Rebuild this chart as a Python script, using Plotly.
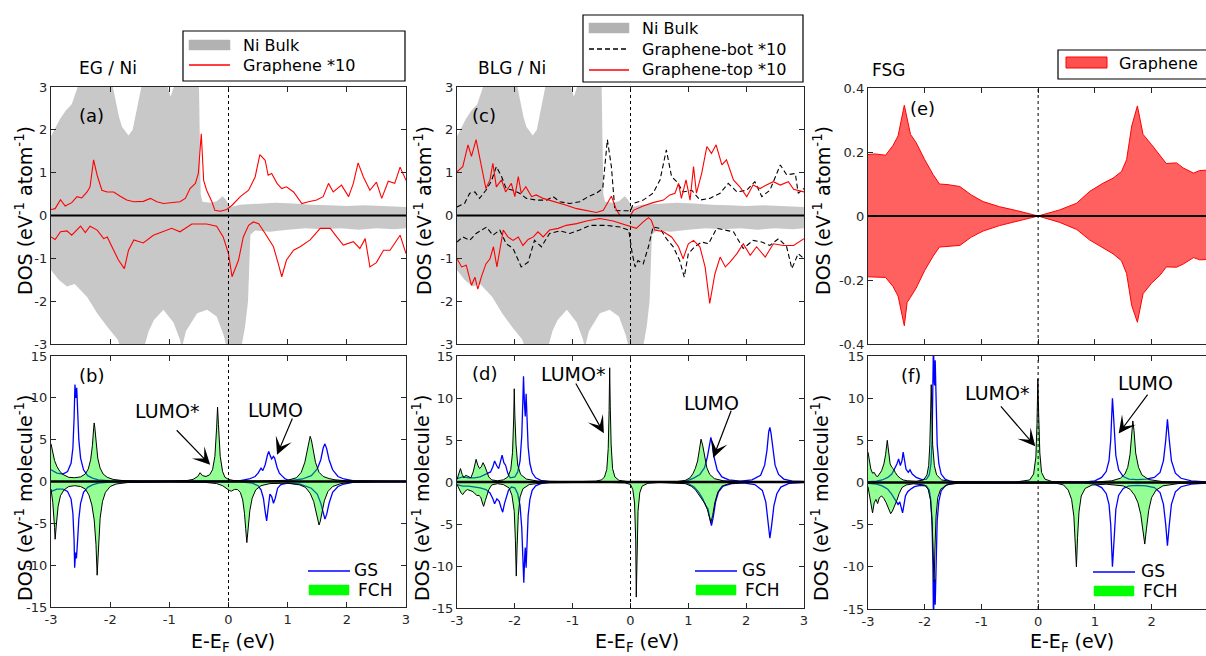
import plotly.graph_objects as go

W, H = 1206, 656

# ----------------------------------------------------------------- DATA
# (energy eV, DOS) pairs
NI_UP = [(-3.00, 1.85), (-2.93, 2.05), (-2.85, 2.25), (-2.75, 2.45), (-2.65, 2.6), (-2.55, 3.0), (-2.50, 3.3),
         (-2.30, 3.5), (-2.10, 3.4), (-1.97, 3.1), (-1.91, 2.7), (-1.85, 2.3), (-1.80, 2.07), (-1.69, 1.87),
         (-1.62, 2.0), (-1.55, 2.5), (-1.49, 3.0), (-1.40, 3.5), (-1.20, 3.4), (-1.05, 3.1), (-0.98, 2.77),
         (-0.90, 3.1), (-0.80, 3.4), (-0.60, 3.3), (-0.50, 3.1), (-0.47, 0.5), (-0.44, 0.32), (-0.30, 0.3),
         (-0.20, 0.33), (-0.10, 0.45), (-0.05, 0.38), (0.03, 0.2), (0.20, 0.25), (0.50, 0.28), (0.80, 0.3),
         (1.10, 0.28), (1.40, 0.25), (1.70, 0.24), (2.00, 0.22), (2.30, 0.24), (2.60, 0.23), (2.80, 0.22),
         (3.00, 0.2)]
NI_DN = [(-3.00, -1.27), (-2.87, -1.5), (-2.73, -1.66), (-2.60, -1.6), (-2.39, -1.9), (-2.22, -2.28),
         (-2.05, -2.6), (-1.87, -2.9), (-1.80, -3.2), (-1.60, -3.4), (-1.43, -3.1), (-1.35, -2.7),
         (-1.26, -2.44), (-1.10, -2.2), (-0.93, -2.5), (-0.82, -2.9), (-0.79, -3.1), (-0.72, -2.7),
         (-0.53, -2.28), (-0.36, -2.2), (-0.20, -2.36), (-0.08, -2.8), (-0.03, -3.1), (0.10, -3.4),
         (0.20, -3.2), (0.28, -2.6), (0.33, -2.0), (0.37, -0.45), (0.45, -0.35), (0.70, -0.38), (1.00, -0.33),
         (1.30, -0.3), (1.60, -0.32), (1.90, -0.3), (2.20, -0.33), (2.50, -0.3), (2.80, -0.32), (3.00, -0.3)]

EG_UP = [(-3.00, 0.14), (-2.93, 0.16), (-2.84, 0.37), (-2.76, 0.22), (-2.65, 0.3), (-2.56, 0.44),
         (-2.48, 0.41), (-2.39, 0.55), (-2.34, 0.67), (-2.28, 1.3), (-2.22, 0.94), (-2.14, 0.59),
         (-2.05, 0.55), (-1.94, 0.55), (-1.83, 0.45), (-1.72, 0.36), (-1.60, 0.32), (-1.44, 0.33),
         (-1.32, 0.4), (-1.21, 0.32), (-1.10, 0.28), (-0.93, 0.3), (-0.82, 0.32), (-0.73, 0.4),
         (-0.65, 0.63), (-0.56, 0.75), (-0.51, 0.98), (-0.46, 1.91), (-0.42, 0.82), (-0.37, 0.59),
         (-0.28, 0.32), (-0.23, 0.12), (-0.14, 0.1), (-0.03, 0.14), (0.06, 0.24), (0.20, 0.44),
         (0.34, 0.59), (0.45, 0.9), (0.53, 1.42), (0.62, 1.29), (0.67, 0.94), (0.73, 0.98), (0.82, 0.75),
         (0.90, 0.63), (0.98, 0.67), (1.10, 0.55), (1.24, 0.28), (1.35, 0.32), (1.49, 0.36), (1.60, 0.44),
         (1.69, 0.75), (1.77, 0.55), (1.91, 0.71), (2.03, 0.44), (2.11, 0.75), (2.19, 1.23), (2.28, 0.9),
         (2.39, 0.59), (2.50, 0.78), (2.59, 0.4), (2.70, 0.8), (2.81, 0.75), (2.90, 1.13), (3.00, 0.82)]
EG_DN = [(-3.00, -0.5), (-2.93, -0.56), (-2.84, -0.38), (-2.73, -0.36), (-2.65, -0.46), (-2.50, -0.25),
         (-2.42, -0.4), (-2.34, -0.25), (-2.22, -0.34), (-2.11, -0.54), (-2.05, -0.5), (-1.97, -0.73),
         (-1.86, -1.04), (-1.76, -1.24), (-1.69, -0.81), (-1.60, -0.57), (-1.44, -0.64), (-1.27, -0.46),
         (-1.10, -0.38), (-0.96, -0.3), (-0.82, -0.38), (-0.70, -0.26), (-0.62, -0.2), (-0.37, -0.2),
         (-0.20, -0.25), (-0.09, -0.5), (0.00, -0.89), (0.06, -1.43), (0.11, -1.24), (0.17, -1.04),
         (0.25, -0.5), (0.34, -0.23), (0.42, -0.15), (0.51, -0.19), (0.62, -0.42), (0.76, -0.73),
         (0.84, -1.12), (0.90, -1.43), (0.98, -1.04), (1.10, -0.81), (1.21, -0.73), (1.38, -0.57),
         (1.55, -0.3), (1.72, -0.3), (1.83, -0.5), (1.94, -0.69), (2.11, -0.61), (2.22, -0.77),
         (2.31, -0.54), (2.39, -1.2), (2.50, -1.1), (2.62, -0.81), (2.73, -0.81), (2.84, -0.57),
         (2.90, -0.46), (3.00, -0.89)]

BLG_TOP_UP = [(-3.00, 1.02), (-2.90, 1.14), (-2.81, 1.65), (-2.75, 1.38), (-2.67, 1.77), (-2.58, 1.14),
              (-2.50, 0.63), (-2.43, 0.83), (-2.38, 1.22), (-2.32, 0.67), (-2.23, 0.83), (-2.16, 0.55),
              (-2.06, 0.75), (-2.00, 0.44), (-1.94, 0.91), (-1.89, 0.52), (-1.81, 0.67), (-1.71, 0.44),
              (-1.63, 0.48), (-1.51, 0.4), (-1.40, 0.36), (-1.28, 0.3), (-1.11, 0.24), (-0.93, 0.16),
              (-0.76, 0.11), (-0.59, 0.07), (-0.47, 0.12), (-0.33, 0.45), (-0.24, 0.12), (-0.18, 0.0),
              (0.00, 0.0), (0.05, 0.12), (0.22, 0.22), (0.39, 0.3), (0.57, 0.36), (0.68, 0.48), (0.77, 0.52),
              (0.83, 0.75), (0.88, 0.4), (0.96, 0.83), (1.03, 0.36), (1.09, 1.14), (1.14, 0.52), (1.23, 0.98),
              (1.32, 1.61), (1.40, 1.45), (1.48, 1.65), (1.58, 1.18), (1.66, 1.3), (1.78, 0.83), (1.89, 0.67),
              (2.01, 0.44), (2.12, 0.71), (2.24, 0.63), (2.35, 0.71), (2.47, 0.79), (2.59, 0.71), (2.73, 0.79),
              (2.82, 0.61), (3.00, 0.55)]
BLG_TOP_DN = [(-3.00, -1.01), (-2.92, -1.2), (-2.84, -1.16), (-2.75, -1.63), (-2.69, -1.44), (-2.64, -1.72),
              (-2.58, -1.44), (-2.50, -1.13), (-2.43, -1.01), (-2.37, -0.73), (-2.31, -1.2), (-2.20, -0.34),
              (-2.12, -0.5), (-2.03, -0.58), (-1.94, -0.5), (-1.86, -0.7), (-1.77, -0.56), (-1.68, -0.5),
              (-1.60, -0.38), (-1.51, -0.5), (-1.40, -0.34), (-1.25, -0.3), (-1.11, -0.23), (-0.93, -0.19),
              (-0.76, -0.13), (-0.53, -0.07), (-0.30, -0.13), (-0.13, -0.2), (0.00, -0.25), (0.10, -0.3),
              (0.22, -0.15), (0.31, -0.05), (0.36, -0.11), (0.42, -0.34), (0.57, -0.38), (0.71, -0.5),
              (0.83, -0.73), (0.91, -1.01), (1.00, -0.66), (1.09, -0.58), (1.20, -0.73), (1.29, -1.2),
              (1.37, -2.05), (1.46, -1.36), (1.55, -0.97), (1.64, -1.2), (1.72, -1.09), (1.84, -0.89),
              (1.95, -0.66), (2.07, -0.93), (2.18, -0.73), (2.33, -0.97), (2.47, -0.66), (2.64, -0.7),
              (2.82, -0.7), (3.00, -0.54)]
BLG_BOT_UP = [(-3.00, 0.2), (-2.87, 0.28), (-2.78, 0.52), (-2.69, 0.55), (-2.61, 0.4), (-2.50, 0.59),
              (-2.41, 0.79), (-2.32, 1.14), (-2.23, 0.91), (-2.15, 0.63), (-2.03, 0.59), (-1.92, 0.52),
              (-1.80, 0.4), (-1.63, 0.36), (-1.45, 0.36), (-1.34, 0.44), (-1.22, 0.32), (-1.05, 0.28),
              (-0.88, 0.32), (-0.73, 0.44), (-0.59, 0.52), (-0.48, 0.63), (-0.40, 1.77), (-0.33, 1.14),
              (-0.27, 0.12), (-0.18, 0.11), (0.00, 0.11), (0.05, 0.28), (0.22, 0.36), (0.39, 0.52),
              (0.51, 0.83), (0.60, 1.45), (0.62, 1.53), (0.71, 0.91), (0.80, 0.79), (0.91, 0.55), (1.06, 0.59),
              (1.20, 0.36), (1.37, 0.4), (1.55, 0.52), (1.69, 0.75), (1.84, 0.55), (2.01, 0.59), (2.15, 0.79),
              (2.27, 0.44), (2.41, 0.59), (2.59, 1.18), (2.70, 0.95), (2.85, 0.98), (2.90, 0.52), (3.00, 0.63)]
BLG_BOT_DN = [(-3.00, -0.62), (-2.90, -0.5), (-2.78, -0.58), (-2.67, -0.42), (-2.49, -0.27), (-2.38, -0.46),
              (-2.26, -0.34), (-2.15, -0.66), (-2.03, -0.77), (-1.89, -1.2), (-1.77, -1.09), (-1.66, -0.58),
              (-1.54, -0.73), (-1.40, -0.42), (-1.22, -0.36), (-1.05, -0.42), (-0.88, -0.34), (-0.70, -0.23),
              (-0.41, -0.23), (-0.18, -0.27), (-0.03, -0.34), (0.03, -0.89), (0.08, -1.2), (0.13, -1.05),
              (0.22, -1.13), (0.31, -0.73), (0.39, -0.27), (0.51, -0.3), (0.62, -0.54), (0.74, -0.73),
              (0.85, -1.05), (0.93, -1.44), (1.00, -0.89), (1.11, -0.73), (1.23, -0.62), (1.35, -0.66),
              (1.49, -0.3), (1.64, -0.34), (1.78, -0.38), (1.95, -0.77), (2.12, -0.58), (2.27, -0.62),
              (2.41, -0.7), (2.56, -0.54), (2.70, -0.73), (2.79, -1.24), (2.90, -0.89), (3.00, -1.01)]

FSG_UP = [(-3.00, 0.192), (-2.88, 0.194), (-2.69, 0.19), (-2.56, 0.22), (-2.47, 0.25), (-2.36, 0.346),
          (-2.25, 0.255), (-2.15, 0.229), (-2.00, 0.176), (-1.85, 0.129), (-1.74, 0.1), (-1.59, 0.098),
          (-1.38, 0.092), (-1.18, 0.066), (-0.97, 0.045), (-0.68, 0.029), (-0.38, 0.017), (0.00, 0.0),
          (0.38, 0.019), (0.68, 0.04), (0.91, 0.077), (1.15, 0.103), (1.32, 0.118), (1.47, 0.139),
          (1.56, 0.176), (1.65, 0.281), (1.75, 0.344), (1.85, 0.255), (2.00, 0.223), (2.15, 0.187),
          (2.26, 0.164), (2.44, 0.166), (2.56, 0.15), (2.74, 0.134), (2.85, 0.142), (2.96, 0.143)]
FSG_DN = [(-3.00, -0.19), (-2.88, -0.19), (-2.69, -0.192), (-2.56, -0.22), (-2.47, -0.25), (-2.36, -0.343),
          (-2.31, -0.27), (-2.25, -0.254), (-2.15, -0.225), (-2.00, -0.17), (-1.85, -0.125), (-1.74, -0.097),
          (-1.59, -0.095), (-1.38, -0.092), (-1.18, -0.066), (-0.97, -0.047), (-0.68, -0.03), (-0.38, -0.017),
          (0.00, 0.0), (0.38, -0.02), (0.68, -0.042), (0.91, -0.075), (1.15, -0.1), (1.32, -0.118),
          (1.47, -0.14), (1.56, -0.18), (1.65, -0.28), (1.75, -0.332), (1.85, -0.243), (2.00, -0.21),
          (2.15, -0.185), (2.26, -0.159), (2.44, -0.16), (2.56, -0.15), (2.74, -0.13), (2.85, -0.137),
          (2.96, -0.136)]

# molecule DOS, panel (b)
B_GS_UP = [(-3.00, 1.4), (-2.90, 1.0), (-2.80, 0.9), (-2.72, 1.2), (-2.66, 2.2), (-2.63, 4.0), (-2.61, 7.5),
           (-2.595, 11.6), (-2.58, 10.0), (-2.565, 11.2), (-2.55, 8.5), (-2.53, 5.0), (-2.50, 2.8),
           (-2.45, 1.4), (-2.38, 0.7), (-2.30, 0.4), (-2.20, 0.2), (-2.00, 0.08), (-1.50, 0.03), (0.00, 0.02),
           (0.20, 0.1), (0.35, 0.3), (0.45, 0.6), (0.50, 1.0), (0.55, 1.6), (0.58, 1.3), (0.62, 2.0),
           (0.66, 3.2), (0.68, 3.6), (0.71, 3.0), (0.73, 2.7), (0.76, 3.0), (0.78, 2.8), (0.82, 1.7),
           (0.86, 1.0), (0.90, 0.7), (0.95, 0.35), (1.00, 0.2), (1.10, 0.15), (1.25, 0.3), (1.40, 0.7),
           (1.50, 1.5), (1.56, 2.6), (1.60, 4.0), (1.63, 4.5), (1.66, 3.9), (1.70, 2.6), (1.76, 1.4),
           (1.85, 0.6), (1.95, 0.3), (2.10, 0.1), (2.50, 0.03), (3.00, 0.0)]
B_GS_DN = [(-3.00, -1.2), (-2.90, -0.9), (-2.80, -0.9), (-2.72, -1.2), (-2.66, -2.1), (-2.63, -3.8),
           (-2.61, -7.0), (-2.60, -10.3), (-2.585, -8.5), (-2.57, -9.2), (-2.55, -7.0), (-2.53, -4.5),
           (-2.50, -2.6), (-2.45, -1.3), (-2.38, -0.7), (-2.30, -0.4), (-2.20, -0.2), (-2.00, -0.08),
           (-1.00, -0.02), (0.20, -0.05), (0.40, -0.2), (0.50, -0.5), (0.55, -1.0), (0.59, -2.0), (0.62, -3.6),
           (0.645, -4.7), (0.67, -3.2), (0.70, -1.5), (0.73, -1.8), (0.76, -2.6), (0.79, -2.0), (0.83, -0.8),
           (0.88, -0.4), (0.92, -0.3), (1.00, -0.2), (1.20, -0.3), (1.40, -0.8), (1.50, -1.5), (1.56, -2.6),
           (1.60, -3.9), (1.63, -4.5), (1.66, -3.9), (1.70, -2.6), (1.76, -1.3), (1.85, -0.6), (1.95, -0.3),
           (2.10, -0.1), (2.50, -0.03), (3.00, 0.0)]
B_FCH_UP = [(-3.00, 4.5), (-2.97, 3.4), (-2.94, 2.5), (-2.90, 1.8), (-2.85, 1.2), (-2.80, 0.85), (-2.70, 0.5),
            (-2.60, 0.45), (-2.50, 0.55), (-2.42, 0.9), (-2.37, 1.5), (-2.33, 2.6), (-2.30, 4.3),
            (-2.28, 6.3), (-2.27, 7.0), (-2.26, 6.5), (-2.24, 4.6), (-2.21, 2.8), (-2.17, 1.6), (-2.12, 0.9),
            (-2.05, 0.5), (-1.95, 0.25), (-1.80, 0.12), (-1.50, 0.05), (-1.00, 0.05), (-0.70, 0.12),
            (-0.60, 0.25), (-0.52, 0.6), (-0.48, 1.05), (-0.44, 0.7), (-0.38, 0.6), (-0.32, 0.8),
            (-0.27, 1.4), (-0.23, 3.0), (-0.20, 6.5), (-0.185, 8.9), (-0.17, 6.8), (-0.14, 3.0),
            (-0.10, 1.2), (-0.06, 0.5), (0.00, 0.25), (0.10, 0.1), (0.50, 0.05), (1.00, 0.15), (1.15, 0.45),
            (1.23, 1.1), (1.29, 2.3), (1.33, 3.8), (1.36, 5.0), (1.38, 5.4), (1.40, 5.0), (1.43, 3.8),
            (1.47, 2.3), (1.53, 1.1), (1.60, 0.6), (1.70, 0.35), (1.80, 0.2), (2.00, 0.08), (2.50, 0.02),
            (3.00, 0.0)]
B_FCH_DN = [(-3.00, -0.9), (-2.97, -2.5), (-2.94, -5.5), (-2.93, -6.9), (-2.91, -5.2), (-2.88, -3.0),
            (-2.84, -1.7), (-2.78, -1.0), (-2.70, -0.6), (-2.60, -0.5), (-2.50, -0.6), (-2.42, -0.9),
            (-2.36, -1.6), (-2.31, -2.8), (-2.27, -4.6), (-2.24, -7.5), (-2.22, -11.2), (-2.20, -7.8),
            (-2.17, -4.4), (-2.13, -2.4), (-2.08, -1.3), (-2.00, -0.6), (-1.90, -0.3), (-1.70, -0.12),
            (-1.00, -0.05), (-0.40, -0.1), (-0.20, -0.25), (-0.10, -0.5), (-0.03, -0.9), (0.02, -1.1),
            (0.05, -1.15), (0.10, -0.95), (0.15, -0.95), (0.20, -1.3), (0.24, -2.2), (0.27, -3.8),
            (0.29, -5.6), (0.31, -7.3), (0.33, -5.8), (0.36, -3.5), (0.40, -2.0), (0.46, -1.0), (0.55, -0.5),
            (0.70, -0.25), (1.00, -0.2), (1.20, -0.4), (1.30, -0.7), (1.38, -1.4), (1.44, -2.4), (1.49, -3.8),
            (1.52, -4.9), (1.53, -5.2), (1.55, -4.8), (1.58, -3.6), (1.62, -2.3), (1.68, -1.2), (1.76, -0.6),
            (1.90, -0.25), (2.10, -0.08), (2.50, -0.02), (3.00, 0.0)]

# panel (d)
D_GS_UP = [(-3.00, 0.4), (-2.90, 0.6), (-2.80, 0.5), (-2.70, 0.5), (-2.60, 0.6), (-2.50, 0.9), (-2.42, 1.2),
           (-2.38, 1.8), (-2.35, 2.5), (-2.31, 1.9), (-2.28, 1.6), (-2.25, 2.4), (-2.22, 3.2), (-2.19, 2.3),
           (-2.16, 2.0), (-2.12, 1.0), (-2.08, 0.5), (-2.00, 0.6), (-1.95, 1.2), (-1.91, 2.5), (-1.88, 5.5),
           (-1.86, 10.0), (-1.85, 12.6), (-1.835, 9.5), (-1.82, 7.8), (-1.805, 10.5), (-1.79, 7.5),
           (-1.77, 4.2), (-1.74, 2.2), (-1.70, 1.1), (-1.64, 0.5), (-1.55, 0.2), (-1.40, 0.05), (0.00, 0.0),
           (0.90, 0.05), (1.00, 0.2), (1.10, 0.5), (1.20, 0.9), (1.28, 1.7), (1.33, 3.0), (1.37, 4.8),
           (1.39, 5.3), (1.41, 4.6), (1.45, 2.8), (1.50, 1.4), (1.58, 0.6), (1.70, 0.25), (1.90, 0.1),
           (2.10, 0.25), (2.25, 0.8), (2.32, 2.0), (2.36, 3.8), (2.39, 6.0), (2.41, 6.5), (2.43, 5.8),
           (2.46, 3.8), (2.50, 2.0), (2.56, 0.9), (2.65, 0.35), (2.80, 0.1), (3.00, 0.03)]
D_GS_DN = [(-3.00, -0.3), (-2.90, -0.5), (-2.80, -0.5), (-2.70, -0.6), (-2.60, -0.7), (-2.50, -0.9),
           (-2.43, -1.3), (-2.38, -2.0), (-2.35, -2.6), (-2.31, -2.0), (-2.27, -2.3), (-2.24, -3.0),
           (-2.21, -3.6), (-2.18, -2.6), (-2.15, -2.0), (-2.11, -1.0), (-2.06, -0.6), (-2.00, -0.7),
           (-1.95, -1.4), (-1.91, -2.8), (-1.88, -5.5), (-1.86, -9.5), (-1.845, -12.0), (-1.83, -9.0),
           (-1.82, -7.8), (-1.805, -10.2), (-1.79, -7.2), (-1.77, -4.0), (-1.74, -2.1), (-1.70, -1.0),
           (-1.64, -0.45), (-1.55, -0.2), (-1.40, -0.05), (0.00, 0.0), (0.90, -0.05), (1.00, -0.2),
           (1.10, -0.6), (1.18, -1.2), (1.25, -2.0), (1.30, -2.8), (1.34, -3.2), (1.37, -4.3), (1.40, -5.2),
           (1.43, -4.2), (1.47, -2.4), (1.52, -1.2), (1.60, -0.5), (1.75, -0.2), (1.95, -0.1), (2.15, -0.3),
           (2.28, -1.0), (2.34, -2.4), (2.38, -4.8), (2.41, -6.7), (2.44, -5.2), (2.48, -2.8), (2.53, -1.4),
           (2.60, -0.6), (2.75, -0.15), (3.00, -0.03)]
D_FCH_UP = [(-3.00, 0.3), (-2.97, 1.0), (-2.94, 1.6), (-2.91, 0.9), (-2.88, 0.5), (-2.85, 0.8), (-2.80, 0.6),
            (-2.76, 0.5), (-2.72, 1.2), (-2.69, 2.0), (-2.67, 2.7), (-2.64, 2.0), (-2.61, 1.6), (-2.58, 1.8),
            (-2.55, 2.3), (-2.52, 1.9), (-2.49, 1.4), (-2.45, 0.6), (-2.40, 0.25), (-2.30, 0.15),
            (-2.20, 0.25), (-2.12, 0.6), (-2.07, 1.5), (-2.04, 3.5), (-2.02, 7.5), (-2.01, 11.1),
            (-2.00, 8.0), (-1.98, 4.5), (-1.95, 2.0), (-1.90, 0.9), (-1.80, 0.35), (-1.60, 0.1),
            (-1.00, 0.03), (-0.60, 0.1), (-0.50, 0.25), (-0.45, 0.6), (-0.41, 1.5), (-0.385, 4.0),
            (-0.37, 8.5), (-0.36, 13.6), (-0.35, 9.0), (-0.335, 4.5), (-0.31, 1.6), (-0.27, 0.6),
            (-0.20, 0.2), (-0.10, 0.08), (0.00, 0.0), (0.80, 0.05), (0.95, 0.2), (1.03, 0.5), (1.08, 1.0),
            (1.12, 1.6), (1.16, 2.5), (1.19, 3.8), (1.22, 5.1), (1.25, 4.3), (1.28, 3.0), (1.32, 1.7),
            (1.37, 0.9), (1.45, 0.4), (1.60, 0.15), (1.90, 0.05), (3.00, 0.0)]
D_FCH_DN = [(-3.00, -0.3), (-2.97, -0.8), (-2.93, -1.3), (-2.90, -1.5), (-2.86, -1.1), (-2.82, -0.9),
            (-2.78, -1.0), (-2.74, -1.1), (-2.70, -1.3), (-2.66, -1.6), (-2.62, -1.6), (-2.59, -1.8),
            (-2.56, -2.5), (-2.54, -2.9), (-2.51, -2.2), (-2.48, -1.6), (-2.45, -0.9), (-2.40, -0.35),
            (-2.30, -0.2), (-2.20, -0.3), (-2.10, -0.7), (-2.05, -1.6), (-2.01, -3.5), (-1.99, -7.0),
            (-1.975, -11.2), (-1.96, -7.5), (-1.94, -4.0), (-1.91, -1.8), (-1.86, -0.8), (-1.75, -0.3),
            (-1.50, -0.1), (-0.50, -0.03), (-0.10, -0.1), (0.00, -0.3), (0.04, -0.9), (0.07, -2.5),
            (0.09, -7.0), (0.10, -13.7), (0.11, -8.5), (0.13, -3.5), (0.16, -1.3), (0.20, -0.5),
            (0.30, -0.15), (0.50, -0.05), (0.95, -0.2), (1.05, -0.5), (1.12, -0.9), (1.18, -1.5),
            (1.24, -2.0), (1.29, -2.6), (1.33, -3.3), (1.37, -4.3), (1.39, -4.8), (1.42, -4.0), (1.46, -2.4),
            (1.51, -1.2), (1.58, -0.5), (1.70, -0.2), (2.00, -0.05), (3.00, 0.0)]

# panel (f)
F_GS_UP = [(-3.00, 0.1), (-2.85, 0.15), (-2.75, 0.3), (-2.65, 0.6), (-2.58, 1.0), (-2.53, 1.6), (-2.49, 2.2),
           (-2.46, 2.8), (-2.43, 2.0), (-2.40, 2.6), (-2.38, 3.6), (-2.36, 2.8), (-2.33, 1.6), (-2.29, 1.2),
           (-2.26, 1.5), (-2.22, 1.0), (-2.15, 0.6), (-2.05, 0.35), (-1.97, 0.4), (-1.92, 0.9), (-1.89, 2.2),
           (-1.87, 5.0), (-1.855, 10.0), (-1.845, 17.0), (-1.835, 12.0), (-1.825, 11.5), (-1.815, 14.5),
           (-1.80, 9.0), (-1.78, 4.5), (-1.75, 2.2), (-1.71, 1.0), (-1.64, 0.4), (-1.55, 0.15), (-1.40, 0.05),
           (0.80, 0.05), (1.00, 0.2), (1.12, 0.6), (1.20, 1.3), (1.25, 2.6), (1.28, 5.0), (1.30, 8.0),
           (1.31, 10.0), (1.32, 9.0), (1.34, 6.0), (1.37, 3.2), (1.42, 1.5), (1.50, 0.7), (1.60, 0.4),
           (1.75, 0.35), (1.90, 0.4), (2.05, 0.6), (2.15, 1.2), (2.21, 2.6), (2.25, 5.0), (2.28, 7.5),
           (2.31, 5.2), (2.35, 2.6), (2.42, 1.1), (2.52, 0.5), (2.70, 0.2), (3.00, 0.05)]
F_GS_DN = [(-3.00, -0.1), (-2.85, -0.2), (-2.75, -0.4), (-2.65, -0.8), (-2.58, -1.4), (-2.52, -2.0),
           (-2.47, -2.6), (-2.44, -2.3), (-2.41, -3.0), (-2.39, -3.6), (-2.37, -2.8), (-2.34, -1.6),
           (-2.30, -1.1), (-2.25, -0.8), (-2.18, -0.5), (-2.08, -0.35), (-1.97, -0.4), (-1.92, -0.9),
           (-1.89, -2.2), (-1.87, -5.0), (-1.855, -10.0), (-1.845, -17.0), (-1.835, -12.0), (-1.825, -11.5),
           (-1.815, -14.5), (-1.80, -9.0), (-1.78, -4.5), (-1.75, -2.2), (-1.71, -1.0), (-1.64, -0.4),
           (-1.55, -0.15), (-1.40, -0.05), (0.80, -0.05), (1.00, -0.2), (1.12, -0.6), (1.20, -1.3),
           (1.25, -2.6), (1.28, -5.0), (1.30, -8.0), (1.31, -10.0), (1.32, -9.0), (1.34, -6.0), (1.37, -3.2),
           (1.42, -1.5), (1.50, -0.7), (1.60, -0.4), (1.75, -0.35), (1.90, -0.4), (2.05, -0.6), (2.15, -1.2),
           (2.21, -2.6), (2.25, -5.0), (2.28, -7.5), (2.31, -5.2), (2.35, -2.6), (2.42, -1.1), (2.52, -0.5),
           (2.70, -0.2), (3.00, -0.05)]
F_FCH_UP = [(-3.00, 3.6), (-2.98, 2.6), (-2.95, 1.6), (-2.92, 1.1), (-2.89, 1.2), (-2.86, 0.8), (-2.83, 0.7),
            (-2.80, 1.0), (-2.76, 1.4), (-2.72, 2.2), (-2.69, 3.3), (-2.66, 5.0), (-2.64, 3.6), (-2.61, 2.2),
            (-2.58, 1.8), (-2.55, 1.6), (-2.52, 1.2), (-2.48, 0.8), (-2.43, 0.5), (-2.38, 0.3), (-2.30, 0.2),
            (-2.15, 0.15), (-2.02, 0.3), (-1.96, 0.9), (-1.93, 2.0), (-1.91, 4.5), (-1.895, 8.5),
            (-1.885, 11.6), (-1.875, 8.8), (-1.86, 4.5), (-1.83, 2.0), (-1.79, 0.9), (-1.70, 0.3),
            (-1.50, 0.1), (-0.40, 0.05), (-0.15, 0.3), (-0.08, 1.0), (-0.04, 3.0), (-0.02, 7.0),
            (-0.005, 12.3), (0.01, 8.0), (0.03, 3.5), (0.06, 1.2), (0.12, 0.4), (0.25, 0.1), (1.00, 0.05),
            (1.30, 0.2), (1.45, 0.5), (1.53, 1.0), (1.58, 1.8), (1.62, 3.3), (1.65, 6.0), (1.67, 7.3),
            (1.69, 6.2), (1.72, 3.5), (1.77, 1.8), (1.83, 0.9), (1.95, 0.35), (2.20, 0.1), (3.00, 0.02)]
F_FCH_DN = [(-3.00, -0.5), (-2.97, -1.8), (-2.94, -3.0), (-2.92, -3.6), (-2.89, -2.4), (-2.86, -2.0),
            (-2.83, -2.5), (-2.80, -1.8), (-2.76, -1.6), (-2.72, -1.9), (-2.68, -2.4), (-2.64, -3.0),
            (-2.60, -3.7), (-2.57, -3.4), (-2.53, -2.8), (-2.49, -2.1), (-2.45, -1.3), (-2.40, -0.6),
            (-2.33, -0.3), (-2.20, -0.15), (-2.00, -0.3), (-1.94, -0.8), (-1.90, -2.0), (-1.87, -4.5),
            (-1.85, -8.5), (-1.835, -11.8), (-1.82, -8.0), (-1.80, -4.0), (-1.77, -1.8), (-1.72, -0.8),
            (-1.60, -0.25), (-1.40, -0.08), (0.30, -0.05), (0.45, -0.3), (0.53, -0.9), (0.59, -2.0),
            (0.63, -4.0), (0.655, -7.0), (0.675, -10.0), (0.695, -6.5), (0.72, -3.5), (0.76, -1.6),
            (0.83, -0.7), (0.95, -0.3), (1.20, -0.2), (1.50, -0.4), (1.62, -0.8), (1.70, -1.5), (1.76, -2.4),
            (1.81, -3.8), (1.85, -5.7), (1.88, -7.3), (1.91, -5.5), (1.95, -3.3), (2.00, -1.8), (2.08, -0.9),
            (2.20, -0.4), (2.50, -0.1), (3.00, -0.02)]

X_TICKS = [-3, -2, -1, 0, 1, 2, 3]
X_TICKTEXT = ['-3', '-2', '-1', '0', '1', '2', '3']
Y_TICKS_TOP = [-3, -2, -1, 0, 1, 2, 3]
Y_TICKTEXT_TOP = ['-3', '-2', '-1', '0', '1', '2', '3']
Y_TICKS_FSG = [-0.4, -0.2, 0, 0.2, 0.4]
Y_TICKTEXT_FSG = ['-0.4', '-0.2', '0', '0.2', '0.4']
Y_TICKS_MOL = [-15, -10, -5, 0, 5, 10, 15]
Y_TICKTEXT_MOL = ['-15', '-10', '-5', '0', '5', '10', '15']

# ----------------------------------------------------------------- STYLE / LAYOUT
FONT = 'DejaVu Sans'
AX = '#262626'
GRAY = 'rgb(200,200,200)'
RED = 'rgb(255,0,0)'
BLUE = 'rgb(0,0,255)'
GREEN = 'rgba(0,255,0,0.42)'


def xs(p):
    return [a for a, _ in p]


def ys(p):
    return [b for _, b in p]


def fx(px):
    return px / W


def fy(py):
    return 1 - py / H


ids = ['', '2', '3', '4', '5', '6']   # a, b, c, d, e, f
cols = [(51, 406), (51, 406), (457, 804), (457, 804), (868, 1206), (868, 1206)]
rows = [(87, 344), (356, 607), (87, 344), (356, 608), (88, 344), (356, 609)]
xranges = [[-3, 3], [-3, 3], [-3, 3], [-3, 3], [-3, 2.96], [-3, 2.96]]

fig = go.Figure()


def add(pairs, i, **kw):
    fig.add_trace(go.Scatter(x=xs(pairs), y=ys(pairs), xaxis='x' + ids[i], yaxis='y' + ids[i],
                             showlegend=False, hoverinfo='skip', **kw))


# (a)
for s in (NI_UP, NI_DN):
    add(s, 0, mode='lines', fill='tozeroy', fillcolor=GRAY, line=dict(width=0, color=GRAY))
for s in (EG_UP, EG_DN):
    add(s, 0, mode='lines', line=dict(color=RED, width=1.1))
# (c)
for s in (NI_UP, NI_DN):
    add(s, 2, mode='lines', fill='tozeroy', fillcolor=GRAY, line=dict(width=0, color=GRAY))
for s in (BLG_BOT_UP, BLG_BOT_DN):
    add(s, 2, mode='lines', line=dict(color='black', width=1.1, dash='5px,3px'))
for s in (BLG_TOP_UP, BLG_TOP_DN):
    add(s, 2, mode='lines', line=dict(color=RED, width=1.1))
# (e)
for s in (FSG_UP, FSG_DN):
    add(s, 4, mode='lines', fill='tozeroy', fillcolor='rgb(255,96,96)', line=dict(color=RED, width=1))
# (b),(d),(f)
for i, (gu, gd, fu, fd) in zip((1, 3, 5), ((B_GS_UP, B_GS_DN, B_FCH_UP, B_FCH_DN),
                                          (D_GS_UP, D_GS_DN, D_FCH_UP, D_FCH_DN),
                                          (F_GS_UP, F_GS_DN, F_FCH_UP, F_FCH_DN))):
    for s in (gu, gd):
        add(s, i, mode='lines', line=dict(color=BLUE, width=1.3))
    for s in (fu, fd):
        add(s, i, mode='lines', fill='tozeroy', fillcolor=GREEN, line=dict(color='black', width=1))

layout = dict(width=W, height=H, margin=dict(l=0, r=0, t=0, b=0, autoexpand=False),
              plot_bgcolor='white', paper_bgcolor='white',
              font=dict(family=FONT, color=AX, size=13), showlegend=False)

for i in range(6):
    top = i in (0, 2, 4)
    last = i >= 4
    xa = dict(domain=[fx(cols[i][0]), fx(cols[i][1])], range=xranges[i], anchor='y' + ids[i],
              showline=True, linecolor=AX, linewidth=1.3, mirror='ticks', ticks='inside', ticklen=5,
              tickcolor=AX, tickvals=X_TICKS, ticktext=X_TICKTEXT, showticklabels=not top,
              showgrid=False, zeroline=False, tickfont=dict(size=13, color=AX))
    if i in (0, 2):
        yv, yt, yr = Y_TICKS_TOP, Y_TICKTEXT_TOP, [-3, 3]
    elif i == 4:
        yv, yt, yr = Y_TICKS_FSG, Y_TICKTEXT_FSG, [-0.4, 0.4]
    else:
        yv, yt, yr = Y_TICKS_MOL, Y_TICKTEXT_MOL, [-15, 15]
    ya = dict(domain=[fy(rows[i][1]), fy(rows[i][0])], range=yr, anchor='x' + ids[i],
              showline=True, linecolor=AX, linewidth=1.3, mirror=False if last else 'ticks',
              ticks='inside', ticklen=5, tickcolor=AX, tickvals=yv, ticktext=yt,
              showgrid=False, zeroline=False, tickfont=dict(size=13, color=AX))
    layout['xaxis' + ids[i]] = xa
    layout['yaxis' + ids[i]] = ya

shapes = []
for i in range(6):
    shapes.append(dict(type='line', xref='x' + ids[i] + ' domain', yref='y' + ids[i], x0=0, x1=1, y0=0, y1=0,
                       line=dict(color='black', width=2.4 if i in (1, 3, 5) else 2)))
    shapes.append(dict(type='line', xref='x' + ids[i], yref='y' + ids[i] + ' domain', x0=0, x1=0, y0=0, y1=1,
                       line=dict(color='black', width=1, dash='dot')))

ann = []


def txt(text, px, py, size, xanchor='center', **kw):
    ann.append(dict(text=text, x=fx(px), y=fy(py), xref='paper', yref='paper', showarrow=False,
                    xanchor=xanchor, yanchor='middle',
                    font=dict(size=size, color='black', family=FONT), **kw))


# ---- legends (drawn as boxes, keys and labels in page coordinates)
def pbox(x0, y0, x1, y1, fill='white', line='black', lw=1.2, dash=None):
    ln = dict(color=line, width=lw)
    if dash:
        ln['dash'] = dash
    shapes.append(dict(type='rect', xref='paper', yref='paper', x0=fx(x0), x1=fx(x1), y0=fy(y1), y1=fy(y0),
                       fillcolor=fill, line=ln, layer='above'))


def pline(x0, x1, y, color, lw=1.3, dash=None):
    ln = dict(color=color, width=lw)
    if dash:
        ln['dash'] = dash
    shapes.append(dict(type='line', xref='paper', yref='paper', x0=fx(x0), x1=fx(x1), y0=fy(y), y1=fy(y),
                       line=ln, layer='above'))


# (a)
pbox(183, 31, 405, 81)
pbox(189, 40, 230, 50, fill='rgb(178,178,178)', line='rgb(178,178,178)', lw=0.5)
txt('Ni Bulk', 241, 45, 16, xanchor='left')
pline(189, 230, 65, RED)
txt('Graphene *10', 241, 65, 16, xanchor='left')
# (c)
pbox(583, 15, 803, 82)
pbox(589, 23, 629, 33, fill='rgb(178,178,178)', line='rgb(178,178,178)', lw=0.5)
txt('Ni Bulk', 640, 28, 16, xanchor='left')
pline(589, 629, 49, 'black', dash='5px,3px')
txt('Graphene-bot *10', 640, 49, 16, xanchor='left')
pline(589, 629, 70, RED)
txt('Graphene-top *10', 640, 70, 16, xanchor='left')
# (e)
pbox(1058, 50, 1240, 79)
pbox(1066, 57, 1107, 68, fill='rgb(255,80,80)', line=RED, lw=1)
txt('Graphene', 1117, 64, 16, xanchor='left')
# (b), (d), (f)
for lx, ly, tx1, tx2 in ((308, 571, 352, 356), (695, 571, 740, 743), (1093, 572, 1139, 1141)):
    pline(lx, lx + 42, ly, BLUE)
    txt('GS', tx1, ly - 1, 17, xanchor='left')
    pbox(lx + 1, ly + 14, lx + 41, ly + 24, fill='rgb(0,255,0)', line='rgb(0,255,0)', lw=0.5)
    txt('FCH', tx2, ly + 19, 17, xanchor='left')

layout['shapes'] = shapes

txt('EG / Ni', 108, 68, 17)
txt('BLG / Ni', 512, 68, 17)
txt('FSG', 888, 70, 17)
for lab, px, py in (('(a)', 77, 116), ('(b)', 77, 375), ('(c)', 470, 115), ('(d)', 470, 373),
                    ('(e)', 908, 109), ('(f)', 899, 375)):
    txt(lab, px, py, 18, xanchor='left')
for px in (24, 423, 822):
    txt('DOS (eV<sup>-1</sup> atom<sup>-1</sup>)', px, 211, 19, textangle=-90)
for px in (24, 421, 820):
    txt('DOS (eV<sup>-1</sup> molecule<sup>-1</sup>)', px, 498, 19, textangle=-90)
for px in (233, 637, 1072):
    txt('E-E<sub>F</sub> (eV)', px, 642, 19)

# LUMO labels and arrows (data coordinates of the bottom panels)
lumo = [  # (axis id, text, tx, ty, tail x, tail y, tip x, tip y)
    ('2', 'LUMO*', -1.04, 8.4, -0.90, 6.3, -0.31, 2.0),
    ('2', 'LUMO', 0.79, 8.5, 1.09, 7.7, 0.82, 3.2),
    ('4', 'LUMO*', -0.99, 12.85, -0.96, 11.9, -0.46, 5.8),
    ('4', 'LUMO', 1.40, 9.44, 1.75, 8.66, 1.43, 2.9),
    ('6', 'LUMO*', -0.73, 10.6, -0.68, 9.2, -0.05, 4.3),
    ('6', 'LUMO', 1.89, 11.76, 1.95, 10.6, 1.42, 5.8),
]
for a, t, tx, ty, ax_, ay_, hx, hy in lumo:
    ann.append(dict(text=t, x=tx, y=ty, xref='x' + a, yref='y' + a, showarrow=False,
                    xanchor='center', yanchor='middle',
                    font=dict(size=19, color='black', family=FONT)))
    ann.append(dict(text='', x=hx, y=hy, xref='x' + a, yref='y' + a, ax=ax_, ay=ay_,
                    axref='x' + a, ayref='y' + a, showarrow=True, arrowhead=3, arrowsize=2.4,
                    arrowwidth=1.2, arrowcolor='black', standoff=0, startstandoff=0))
layout['annotations'] = ann

fig.update_layout(**layout)
fig.write_html('out.html')
